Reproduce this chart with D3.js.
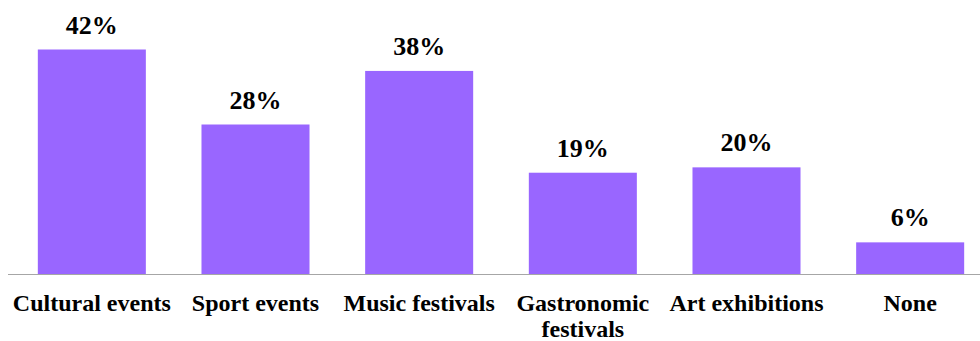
<!DOCTYPE html>
<html>
<head>
<meta charset="utf-8">
<script src="https://cdn.jsdelivr.net/npm/d3@7/dist/d3.min.js"></script>
<style>
  html, body { margin: 0; padding: 0; background: #fff; }
  svg { display: block; }
</style>
</head>
<body>
<svg id="chart" width="980" height="341"></svg>
<script>
// Share of respondents by type of event attended
const categories = ["Cultural events", "Sport events", "Music festivals", "Gastronomic\nfestivals", "Art exhibitions", "None"];
const values = [42, 28, 38, 19, 20, 6];

const width = 980, height = 341;
const baseline = 274.5;
const fontStack = "'Liberation Serif', Tinos, 'Times New Roman', Times, 'Nimbus Roman', 'DejaVu Serif', serif";
const svg = d3.select("#chart")
  .attr("font-family", fontStack)
  .attr("font-weight", "bold");

const x = d3.scaleBand()
  .domain(categories)
  .range([10, 992])
  .paddingInner(0.34)
  .paddingOuter(0.17);

const y = d3.scaleLinear()
  .domain([0, 42])
  .range([baseline, 49.5]);

// bars
svg.append("g")
  .selectAll("rect")
  .data(values)
  .join("rect")
  .attr("x", (d, i) => x(categories[i]))
  .attr("y", d => y(d))
  .attr("width", x.bandwidth())
  .attr("height", d => y(0) - y(d))
  .attr("fill", "#9966FF");

// category axis line
svg.append("line")
  .attr("x1", 8).attr("x2", width)
  .attr("y1", baseline).attr("y2", baseline)
  .attr("stroke", "#a6a6a6")
  .attr("stroke-width", 1);

// value labels
svg.append("g")
  .selectAll("text")
  .data(values)
  .join("text")
  .attr("x", (d, i) => x(categories[i]) + x.bandwidth() / 2)
  .attr("y", d => y(d) - 16)
  .attr("text-anchor", "middle")
  .attr("font-family", fontStack)
  .attr("font-weight", "bold")
  .attr("font-size", 26)
  .attr("fill", "#000")
  .text(d => d + "%");

// category labels
const labels = svg.append("g")
  .selectAll("text")
  .data(categories)
  .join("text")
  .attr("x", d => x(d) + x.bandwidth() / 2)
  .attr("y", 311)
  .attr("text-anchor", "middle")
  .attr("font-family", fontStack)
  .attr("font-weight", "bold")
  .attr("font-size", 24)
  .attr("fill", "#000");

labels.selectAll("tspan")
  .data(d => d.split("\n").map(t => ({ t, cx: x(d) + x.bandwidth() / 2 })))
  .join("tspan")
  .attr("x", d => d.cx)
  .attr("dy", (d, i) => i === 0 ? 0 : 26)
  .text(d => d.t);
</script>
</body>
</html>
